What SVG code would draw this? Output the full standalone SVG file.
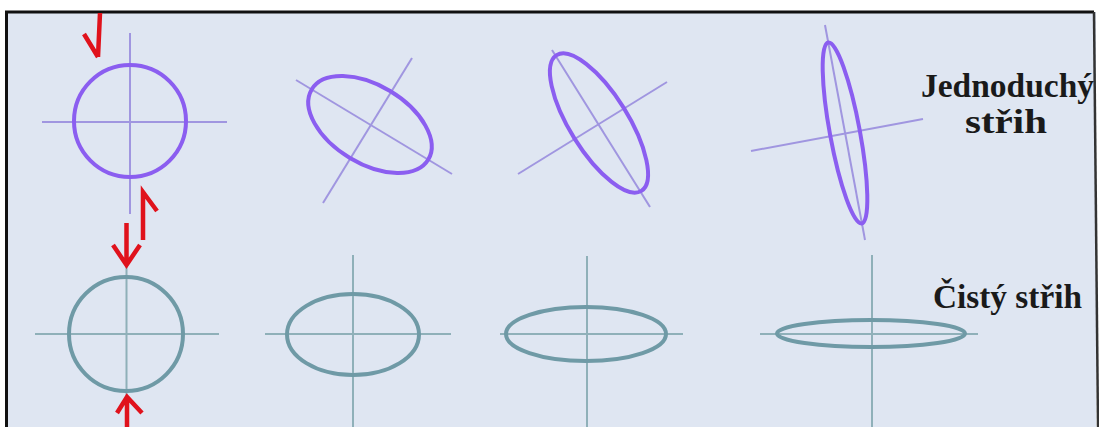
<svg xmlns="http://www.w3.org/2000/svg" width="1099" height="427" viewBox="0 0 1099 427">
  <style>
    .pe { fill: none; stroke: #8b5ef0; stroke-width: 4; }
    .pa { stroke: #a096e0; stroke-width: 2; fill: none; }
    .te { fill: none; stroke: #6f9aa6; stroke-width: 4; }
    .ta { stroke: #8fb0b9; stroke-width: 2; fill: none; }
    .red { fill: none; stroke: #e0121c; stroke-width: 4.5; stroke-linejoin: miter; }
    .lbl { font-family: "Liberation Serif", "Times New Roman", serif; font-weight: bold; font-size: 34px; fill: #1a1a1a; }
  </style>
  <rect x="0" y="0" width="1099" height="427" fill="#ffffff"/>
  <rect x="6" y="12" width="1090" height="415" fill="#dfe6f2"/>
  <g id="frame" fill="none" stroke="#111" stroke-width="3">
    <path d="M6.5,427 L6.5,12 L1094,12"/>
    <path d="M1094,12 L1098,427" stroke="#333" stroke-width="2.5"/>
  </g>

  <g id="simple-1">
    <line class="pa" x1="42" y1="122" x2="227" y2="122"/>
    <line class="pa" x1="130" y1="33" x2="130" y2="214"/>
    <circle class="pe" cx="130" cy="121" r="56"/>
  </g>
  <g id="simple-2">
    <line class="pa" x1="296" y1="80" x2="452" y2="174"/>
    <line class="pa" x1="412" y1="58" x2="323" y2="203"/>
    <ellipse class="pe" cx="370" cy="124.5" rx="68" ry="39" transform="rotate(31 370 124.5)"/>
  </g>
  <g id="simple-3">
    <line class="pa" x1="552" y1="50" x2="650" y2="207"/>
    <line class="pa" x1="667" y1="82" x2="518" y2="174"/>
    <ellipse class="pe" cx="599" cy="123" rx="80" ry="29" transform="rotate(58 599 123)"/>
  </g>
  <g id="simple-4">
    <line class="pa" x1="825" y1="25" x2="865" y2="240"/>
    <line class="pa" x1="751" y1="151" x2="923" y2="119"/>
    <ellipse class="pe" cx="845" cy="133" rx="92" ry="15" transform="rotate(79.5 845 133)"/>
  </g>

  <g id="pure-1">
    <line class="ta" x1="35" y1="334" x2="219" y2="334"/>
    <line class="ta" x1="126.5" y1="266" x2="126.5" y2="397"/>
    <circle class="te" cx="126" cy="334" r="57"/>
  </g>
  <g id="pure-2">
    <line class="ta" x1="265" y1="334" x2="451" y2="334"/>
    <line class="ta" x1="353" y1="255" x2="353" y2="427"/>
    <ellipse class="te" cx="353" cy="334.5" rx="66" ry="40.5"/>
  </g>
  <g id="pure-3">
    <line class="ta" x1="500" y1="334" x2="683" y2="334"/>
    <line class="ta" x1="587" y1="256" x2="587" y2="427"/>
    <ellipse class="te" cx="586" cy="334" rx="80" ry="27"/>
  </g>
  <g id="pure-4">
    <line class="ta" x1="760" y1="334" x2="978" y2="334"/>
    <line class="ta" x1="872" y1="255" x2="872" y2="427"/>
    <ellipse class="te" cx="871" cy="333.5" rx="94" ry="13.5"/>
  </g>

  <g id="connectors">
    <path class="red" d="M100,13 L98,57 M84,34 L98,57"/>
    <path class="red" d="M143,240 L143,192 L157,211"/>
    <path class="red" d="M126.5,223 L126.5,262 M113,245 L126.5,265 L140,245" stroke-width="5"/>
    <path class="red" d="M127,427 L127,400 M117,413 L127,397 L142,413" stroke-width="5"/>
  </g>

  <g id="label-simple">
    <text class="lbl" x="921" y="97" textLength="173" lengthAdjust="spacingAndGlyphs">Jednoduchý</text>
    <text class="lbl" x="965" y="133" textLength="82" lengthAdjust="spacingAndGlyphs">střih</text>
  </g>
  <g id="label-pure">
    <text class="lbl" x="933" y="308" textLength="149" lengthAdjust="spacingAndGlyphs">Čistý střih</text>
  </g>
</svg>
